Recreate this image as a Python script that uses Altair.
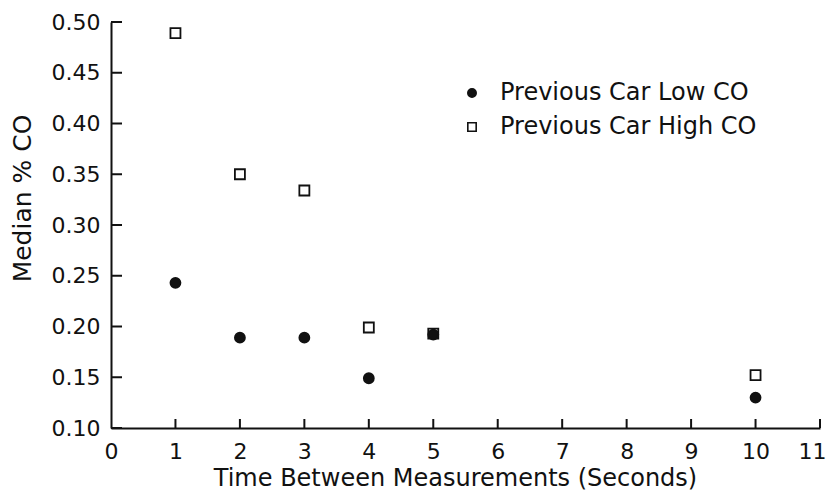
import altair as alt
import pandas as pd

times = [1, 2, 3, 4, 5, 10]
low_co = [0.243, 0.189, 0.189, 0.149, 0.192, 0.130]
high_co = [0.489, 0.350, 0.334, 0.199, 0.193, 0.152]
series_names = ["Previous Car Low CO", "Previous Car High CO"]
x_ticks = list(range(0, 12))
x_inner_ticks = list(range(1, 12))
y_ticks = [0.10, 0.15, 0.20, 0.25, 0.30, 0.35, 0.40, 0.45, 0.50]

rows = []
for t, v in zip(times, high_co):
    rows.append({"time": t, "co": v, "series": series_names[1]})
for t, v in zip(times, low_co):
    rows.append({"time": t, "co": v, "series": series_names[0]})
df = pd.DataFrame(rows)

W, H = 709, 406
FONT = "DejaVu Sans"
INK = "#111111"

xscale = alt.Scale(domain=[0, 11], nice=False, zero=False)
yscale = alt.Scale(domain=[0.10, 0.50], nice=False, zero=False)

x_axis = alt.Axis(values=x_ticks, format="d", ticks=False, tickSize=0,
                  labelPadding=13, labelFontSize=22, labelFont=FONT,
                  labelColor=INK, grid=False, domainColor=INK, domainWidth=2,
                  labelAlign=alt.condition("datum.value == 11",
                                           alt.value("right"), alt.value("center")),
                  labelOffset=alt.condition("datum.value == 11",
                                            alt.value(6), alt.value(0)),
                  title="Time Between Measurements (Seconds)",
                  titleFont=FONT, titleFontSize=24, titleFontWeight="normal",
                  titleColor=INK, titleX=344, titleY=57,
                  titleBaseline="alphabetic", titleAnchor="middle",
                  labelFlush=False)
y_axis = alt.Axis(values=y_ticks, format=".2f", ticks=False, tickSize=0,
                  labelPadding=11, labelFontSize=22, labelFont=FONT,
                  labelColor=INK, grid=False, domainColor=INK, domainWidth=2,
                  title="Median % CO", titleFont=FONT, titleFontSize=25,
                  titleFontWeight="normal", titleColor=INK,
                  titleX=-89, titleY=176, titleBaseline="middle",
                  titleAngle=270, labelFlush=False)

legend = alt.Legend(title=None, orient="none", legendX=349, legendY=59,
                    labelFont=FONT, labelFontSize=24, labelColor=INK,
                    labelLimit=0, symbolSize=70, symbolStrokeWidth=1.6,
                    labelOffset=16, rowPadding=10, padding=0)

ytick_df = pd.DataFrame({"v": y_ticks})
xtick_df = pd.DataFrame({"t": x_inner_ticks})

yticks_layer = alt.Chart(ytick_df).mark_rule(color=INK, strokeWidth=2).encode(
    y=alt.Y("v:Q", scale=yscale, axis=y_axis, title="Median % CO"),
    x=alt.value(0), x2=alt.value(11),
)
xticks_layer = alt.Chart(xtick_df).mark_rule(color=INK, strokeWidth=2).encode(
    x=alt.X("t:Q", scale=xscale, axis=x_axis,
            title="Time Between Measurements (Seconds)"),
    y=alt.value(H), y2=alt.value(H - 9),
)

points = alt.Chart(df).mark_point(strokeWidth=1.8, opacity=1).encode(
    x=alt.X("time:Q", scale=xscale, axis=x_axis,
            title="Time Between Measurements (Seconds)"),
    y=alt.Y("co:Q", scale=yscale, axis=y_axis, title="Median % CO"),
    shape=alt.Shape("series:N",
                    scale=alt.Scale(domain=series_names, range=["circle", "square"]),
                    legend=legend),
    fill=alt.Fill("series:N",
                  scale=alt.Scale(domain=series_names, range=[INK, "white"]),
                  legend=legend),
    stroke=alt.Stroke("series:N",
                      scale=alt.Scale(domain=series_names, range=[INK, INK]),
                      legend=legend),
    size=alt.value(100),
)

chart = alt.layer(yticks_layer, xticks_layer, points).properties(
    width=W, height=H,
    autosize=alt.AutoSizeParams(type="none"),
    padding={"left": 103, "top": 14, "right": 6, "bottom": 62},
    background="white",
).configure_view(stroke=None)

chart.save("out.html", embed_options={"renderer": "svg", "actions": False})
